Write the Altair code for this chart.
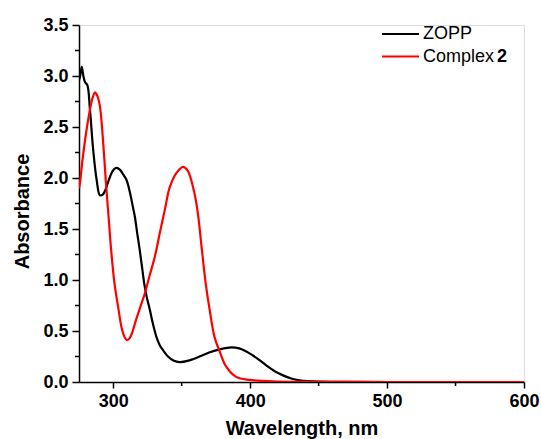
import altair as alt
import pandas as pd

# ---- data ----
zopp_wl = [275.0, 275.7, 277.0, 278.2, 279.4, 281.1, 283.0, 285.4, 287.9, 290.3, 292.5, 294.5, 296.5,
           298.8, 300.5, 302.4, 305.0, 307.5, 309.7, 312.0, 314.3, 315.8, 317.5, 319.4, 321.0, 322.6,
           324.5, 326.7, 329.0, 331.6, 334.0, 336.5, 340.0, 344.0, 348.6, 355.0, 363.1, 370.0, 377.7,
           386.2, 392.0, 397.2, 402.0, 406.8, 412.0, 418.0, 424.0, 430.0, 436.0, 442.0, 450.0, 470.0,
           500.0, 550.0, 600.0]
zopp_abs = [2.96, 2.99, 3.09, 3.00, 2.94, 2.91, 2.67, 2.27, 1.98, 1.83, 1.84, 1.89, 1.97,
            2.05, 2.085, 2.10, 2.08, 2.03, 1.98, 1.87, 1.72, 1.62, 1.46, 1.29, 1.13, 0.97,
            0.83, 0.71, 0.57, 0.44, 0.36, 0.31, 0.25, 0.21, 0.195, 0.21, 0.25, 0.29, 0.32,
            0.34, 0.33, 0.30, 0.26, 0.215, 0.16, 0.105, 0.065, 0.035, 0.017, 0.008, 0.003, 0.001,
            0.0, 0.0, 0.0]

c2_wl = [275.0, 275.7, 277.5, 279.4, 281.2, 283.0, 284.8, 286.7, 288.5, 290.3, 292.8, 294.7, 296.6,
         298.5, 300.9, 304.0, 306.0, 308.0, 310.0, 312.0, 314.0, 316.0, 319.4, 323.1, 326.5, 330.4,
         334.0, 337.7, 341.3, 346.2, 351.0, 354.5, 358.3, 360.5, 362.5, 364.4, 367.5, 370.4, 374.0,
         377.7, 382.5, 389.8, 399.7, 420.0, 450.0, 500.0, 550.0, 600.0]
c2_abs = [1.90, 1.95, 2.17, 2.37, 2.53, 2.67, 2.78, 2.84, 2.80, 2.70, 2.32, 1.95, 1.62,
          1.29, 0.97, 0.70, 0.54, 0.45, 0.41, 0.43, 0.49, 0.58, 0.72, 0.87, 1.04, 1.23,
          1.46, 1.69, 1.91, 2.05, 2.11, 2.07, 1.91, 1.77, 1.58, 1.34, 0.97, 0.71, 0.44,
          0.30, 0.15, 0.05, 0.02, 0.005, 0.002, 0.0, 0.0, 0.0]

series_names = ["ZOPP", "Complex 2"]
series_colors = ["#000000", "#ff0000"]

x_major = [300, 400, 500, 600]
x_minor = [350, 450, 550]
y_major = [0.0, 0.5, 1.0, 1.5, 2.0, 2.5, 3.0, 3.5]
y_minor = [0.25, 0.75, 1.25, 1.75, 2.25, 2.75, 3.25]

df = pd.concat([
    pd.DataFrame({"wl": zopp_wl, "a": zopp_abs, "s": series_names[0]}),
    pd.DataFrame({"wl": c2_wl, "a": c2_abs, "s": series_names[1]}),
])

W, H = 445, 357
FONT = "Liberation Sans"

xscale = alt.Scale(domain=[275, 600], nice=False, zero=False)
yscale = alt.Scale(domain=[0, 3.5], nice=False)
cscale = alt.Scale(domain=series_names, range=series_colors)

xaxis = alt.Axis(values=x_major, title="Wavelength, nm", labelFontSize=18, labelFontWeight="bold",
                 titleFontSize=20, titleFontWeight="bold", tickSize=6, tickWidth=1.5, domainWidth=1.5,
                 labelPadding=4, titlePadding=8, grid=False, labelFont=FONT, titleFont=FONT,
                 domainColor="black", tickColor="black", labelColor="black", titleColor="black",
                 labelFlush=False)
yaxis = alt.Axis(values=y_major, format=".1f", title="Absorbance", labelFontSize=18, labelFontWeight="bold",
                 titleFontSize=20, titleFontWeight="bold", tickSize=7, tickWidth=1.5, domainWidth=1.5,
                 labelPadding=4, titlePadding=10, titleY=186, grid=False, labelFont=FONT, titleFont=FONT,
                 domainColor="black", tickColor="black", labelColor="black", titleColor="black")

lines = alt.Chart(df).mark_line(strokeWidth=2.2, interpolate="catmull-rom", clip=True).encode(
    x=alt.X("wl:Q", scale=xscale, axis=xaxis),
    y=alt.Y("a:Q", scale=yscale, axis=yaxis),
    color=alt.Color("s:N", scale=cscale, legend=None),
)

yminor = alt.Chart(pd.DataFrame({"a": y_minor})).mark_rule(strokeWidth=1.5, color="black", clip=False).encode(
    y=alt.Y("a:Q", scale=yscale, axis=yaxis),
    x=alt.value(0), x2=alt.value(-4),
)
xminor = alt.Chart(pd.DataFrame({"wl": x_minor})).mark_rule(strokeWidth=1.5, color="black", clip=False).encode(
    x=alt.X("wl:Q", scale=xscale, axis=xaxis),
    y=alt.value(H), y2=alt.value(H + 4),
)

# legend (drawn manually so that "2" can be bold)
def leg_rule(color, y):
    return alt.Chart(pd.DataFrame({"k": [0]})).mark_rule(strokeWidth=2.2, color=color).encode(
        x=alt.value(303), x2=alt.value(340), y=alt.value(y))

def leg_text(t, x, y, weight="normal"):
    return alt.Chart(pd.DataFrame({"t": [t]})).mark_text(
        align="left", baseline="middle", fontSize=18, font=FONT, fontWeight=weight, color="black").encode(
        text="t:N", x=alt.value(x), y=alt.value(y))

legend = [
    leg_rule(series_colors[0], 9), leg_rule(series_colors[1], 31.5),
    leg_text("ZOPP", 344, 9), leg_text("Complex", 344, 31.5), leg_text("2", 418, 31.5, "bold"),
]

chart = alt.layer(lines, yminor, xminor, *legend).properties(
    width=W, height=H,
    autosize=alt.AutoSizeParams(type="none"),
    padding={"left": 79, "top": 25, "right": 17, "bottom": 57},
).configure_view(stroke=None).configure(background="white")

chart.save("out.html", embed_options={"renderer": "svg", "actions": False})
